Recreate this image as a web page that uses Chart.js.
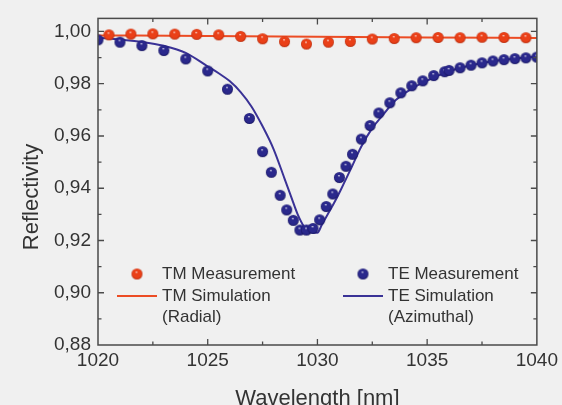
<!DOCTYPE html>
<html>
<head>
<meta charset="utf-8">
<script src="https://cdn.jsdelivr.net/npm/chart.js@4.4.1/dist/chart.umd.min.js"></script>
<style>
  html, body { margin: 0; padding: 0; background: #f0f0f0; }
  #wrap { width: 562px; height: 405px; position: relative; }
</style>
</head>
<body>
<div id="wrap"><canvas id="c" width="562" height="405"></canvas></div>
<script>
// ---- Data ----
const tmMeasX = [1020.5, 1021.5, 1022.5, 1023.5, 1024.5, 1025.5, 1026.5, 1027.5, 1028.5, 1029.5,
                 1030.5, 1031.5, 1032.5, 1033.5, 1034.5, 1035.5, 1036.5, 1037.5, 1038.5, 1039.5];
const tmMeasY = [0.9987, 0.9990, 0.9991, 0.9990, 0.9989, 0.9987, 0.9981, 0.9972, 0.9961, 0.9952,
                 0.9959, 0.9962, 0.9971, 0.9973, 0.9976, 0.9977, 0.9976, 0.9978, 0.9977, 0.9976];

const teMeasX = [1020.0, 1021.0, 1022.0, 1023.0, 1024.0, 1025.0, 1025.9, 1026.9, 1027.5, 1027.9,
                 1028.3, 1028.6, 1028.9, 1029.2, 1029.5, 1029.8, 1030.1, 1030.4, 1030.7, 1031.0,
                 1031.3, 1031.6, 1032.0, 1032.4, 1032.8, 1033.3, 1033.8, 1034.3, 1034.8, 1035.3,
                 1035.8, 1036.0, 1036.5, 1037.0, 1037.5, 1038.0, 1038.5, 1039.0, 1039.5, 1040.0];
const teMeasY = [0.9968, 0.9959, 0.9946, 0.9927, 0.9895, 0.9849, 0.9779, 0.9667, 0.9540, 0.9461,
                 0.9373, 0.9317, 0.9277, 0.9240, 0.9240, 0.9246, 0.9279, 0.9330, 0.9378, 0.9441,
                 0.9484, 0.9530, 0.9588, 0.9640, 0.9688, 0.9727, 0.9765, 0.9792, 0.9811, 0.9831,
                 0.9846, 0.9851, 0.9861, 0.9871, 0.9880, 0.9887, 0.9892, 0.9896, 0.9899, 0.9902];

const tmSimX = [1020, 1025, 1030, 1035, 1040];
const tmSimY = [0.9985, 0.9983, 0.9980, 0.9977, 0.9975];

const teSimX = [1020.0, 1021.0, 1022.0, 1023.0, 1024.0, 1025.0, 1025.5, 1026.0, 1026.5, 1027.0,
                1027.5, 1028.0, 1028.5, 1028.8, 1029.1, 1029.4, 1029.7, 1030.0, 1030.2, 1030.5,
                1030.8, 1031.1, 1031.5, 1032.0, 1032.5, 1033.0, 1033.5, 1034.0, 1034.6, 1035.0,
                1035.5, 1036.0, 1036.5, 1037.0, 1037.5, 1038.0, 1038.5, 1039.0, 1039.5, 1040.0];
const teSimY = [0.9976, 0.9969, 0.9960, 0.9945, 0.9918, 0.9866, 0.9840, 0.9810, 0.9768, 0.9712,
                0.9637, 0.9550, 0.9437, 0.9368, 0.9300, 0.9252, 0.9232, 0.9230, 0.9260, 0.9305,
                0.9350, 0.9400, 0.9470, 0.9560, 0.9630, 0.9682, 0.9732, 0.9765, 0.9796, 0.9812,
                0.9831, 0.9847, 0.9860, 0.9870, 0.9879, 0.9886, 0.9892, 0.9896, 0.9900, 0.9903];

const xTickLabels = ['1020', '1025', '1030', '1035', '1040'];
const yTickValues = [0.88, 0.89, 0.90, 0.91, 0.92, 0.93, 0.94, 0.95, 0.96, 0.97, 0.98, 0.99, 1.00];
const yTickLabels = ['0,88', '', '0,90', '', '0,92', '', '0,94', '', '0,96', '', '0,98', '', '1,00'];

const RED = 'rgb(234,64,24)';
const RED_LINE = 'rgb(236,76,36)';
const BLUE = 'rgb(42,40,140)';
const BLUE_LINE = 'rgb(58,50,150)';

function pts(xs, ys) { return xs.map((x, i) => ({ x: x, y: ys[i] })); }

function sphere(color, dark, r) {
  const c = document.createElement('canvas');
  const s = Math.ceil(2 * r + 2);
  c.width = s; c.height = s;
  const g = c.getContext('2d');
  const cx = s / 2, cy = s / 2;
  const grad = g.createRadialGradient(cx - r * 0.1, cy - r * 0.4, 0, cx, cy, r * 1.05);
  grad.addColorStop(0, 'rgba(255,255,255,0.95)');
  grad.addColorStop(0.22, color);
  grad.addColorStop(0.75, color);
  grad.addColorStop(1, dark);
  g.fillStyle = grad;
  g.beginPath(); g.arc(cx, cy, r, 0, Math.PI * 2); g.fill();
  return c;
}
const redBall = sphere(RED, 'rgb(175,40,10)', 5.5);
const blueBall = sphere(BLUE, 'rgb(20,18,90)', 5.5);

const FONT = "'Liberation Sans', Arial, Helvetica, sans-serif";
const TEXT = '#333333';
const AXIS = '#4a4a4a';

const framePlugin = {
  id: 'frame',
  afterDatasetsDraw(chart) {
    const ctx = chart.ctx, a = chart.chartArea;
    const xs = chart.scales.x, ys = chart.scales.y;
    ctx.save();
    ctx.strokeStyle = AXIS;
    ctx.lineWidth = 1.5;
    ctx.strokeRect(a.left, a.top, a.right - a.left, a.bottom - a.top);
    ctx.lineWidth = 1.3;
    ctx.beginPath();
    xs.ticks.forEach(t => {
      const v = t.value;
      const major = Math.abs(v / 5 - Math.round(v / 5)) < 1e-6;
      const len = major ? 6 : 3.5;
      const px = xs.getPixelForValue(v);
      if (px <= a.left + 1 || px >= a.right - 1) return;
      ctx.moveTo(px, a.bottom); ctx.lineTo(px, a.bottom - len);
      ctx.moveTo(px, a.top); ctx.lineTo(px, a.top + len);
    });
    ys.ticks.forEach(t => {
      const v = t.value;
      const major = Math.round(v * 100) % 2 === 0;
      const len = major ? 6 : 3.5;
      const py = ys.getPixelForValue(v);
      if (py >= a.bottom - 1) return;
      ctx.moveTo(a.left, py); ctx.lineTo(a.left + len, py);
      ctx.moveTo(a.right, py); ctx.lineTo(a.right - len, py);
    });
    ctx.stroke();
    ctx.restore();
  },
  afterDraw(chart) {
    const ctx = chart.ctx;
    ctx.save();
    // y axis title
    ctx.fillStyle = TEXT;
    ctx.font = '22px ' + FONT;
    ctx.textAlign = 'center';
    ctx.textBaseline = 'middle';
    ctx.translate(32, 197);
    ctx.rotate(-Math.PI / 2);
    ctx.fillText(chart.options.scales.y.title.text, 0, 0);
    ctx.restore();

    // legend
    const ds = chart.data.datasets;
    const items = [
      { d: ds[0], kind: 'pt', mx: 137, tx: 162, y: 274 },
      { d: ds[1], kind: 'pt', mx: 363, tx: 388, y: 274 },
      { d: ds[2], kind: 'ln', lx0: 117, lx1: 157, tx: 162, y: 296 },
      { d: ds[3], kind: 'ln', lx0: 343, lx1: 383, tx: 388, y: 296 }
    ];
    ctx.save();
    ctx.font = '17px ' + FONT;
    ctx.fillStyle = TEXT;
    ctx.textAlign = 'left';
    ctx.textBaseline = 'middle';
    items.forEach(it => {
      if (it.kind === 'pt') {
        const img = it.d.pointStyle;
        ctx.drawImage(img, it.mx - img.width / 2, it.y - img.height / 2);
      } else {
        ctx.strokeStyle = it.d.borderColor;
        ctx.lineWidth = it.d.borderWidth;
        ctx.beginPath(); ctx.moveTo(it.lx0, it.y); ctx.lineTo(it.lx1, it.y); ctx.stroke();
      }
      const lines = it.d.label.split('|');
      lines.forEach((s, i) => ctx.fillText(s, it.tx, it.y + i * 21.5));
    });
    ctx.restore();
  }
};

new Chart(document.getElementById('c'), {
  type: 'scatter',
  data: {
    datasets: [
      { label: 'TM Measurement', data: pts(tmMeasX, tmMeasY), pointStyle: redBall, pointRadius: 5.5, showLine: false },
      { label: 'TE Measurement', data: pts(teMeasX, teMeasY), pointStyle: blueBall, pointRadius: 5.5, showLine: false },
      { label: 'TM Simulation|(Radial)', data: pts(tmSimX, tmSimY), showLine: true, borderColor: RED_LINE, borderWidth: 2, pointRadius: 0, cubicInterpolationMode: 'monotone' },
      { label: 'TE Simulation|(Azimuthal)', data: pts(teSimX, teSimY), showLine: true, borderColor: BLUE_LINE, borderWidth: 2, pointRadius: 0, cubicInterpolationMode: 'monotone' }
    ]
  },
  options: {
    responsive: false,
    animation: false,
    devicePixelRatio: 1,
    layout: { padding: { left: 0, right: 22, top: 18, bottom: 0 } },
    plugins: { legend: { display: false }, tooltip: { enabled: false } },
    scales: {
      x: {
        type: 'linear', min: 1020, max: 1040,
        afterFit: s => { s.height = 60; },
        grid: { display: false, drawTicks: false },
        border: { display: false },
        ticks: {
          stepSize: 2.5, autoSkip: false, maxRotation: 0, padding: 4,
          color: TEXT, font: { family: FONT, size: 19 },
          callback: v => {
            const k = Math.round((v - 1020) / 5);
            return Math.abs((v - 1020) / 5 - k) < 1e-6 ? xTickLabels[k] : '';
          }
        },
        title: { display: true, text: 'Wavelength [nm]', color: TEXT, font: { family: FONT, size: 22, lineHeight: 1 }, padding: { top: 0, bottom: -5 } }
      },
      y: {
        type: 'linear', min: 0.88, max: 1.005,
        afterFit: s => { s.width = 98; },
        afterBuildTicks: s => { s.ticks = yTickValues.map(v => ({ value: v })); },
        grid: { display: false, drawTicks: false },
        border: { display: false },
        ticks: {
          autoSkip: false, padding: 7,
          color: TEXT, font: { family: FONT, size: 19 },
          callback: (v, i) => yTickLabels[i]
        },
        title: { display: false, text: 'Reflectivity' }
      }
    }
  },
  plugins: [framePlugin]
});
</script>
</body>
</html>
